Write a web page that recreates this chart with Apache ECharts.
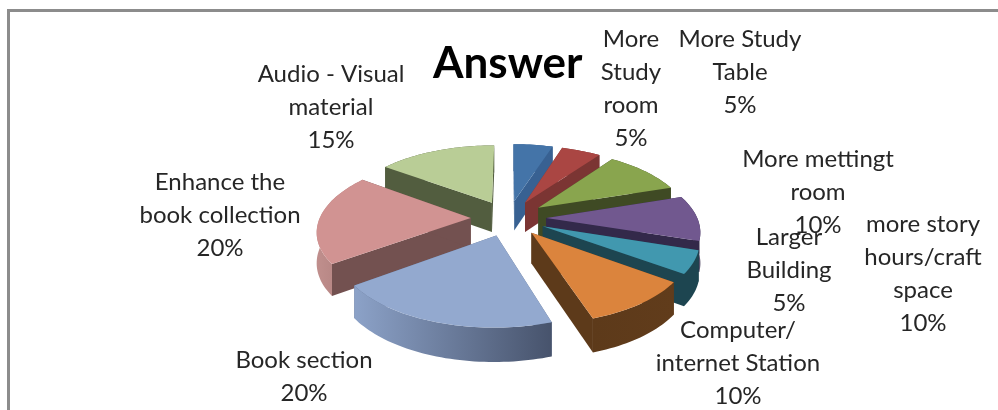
<!DOCTYPE html>
<html>
<head>
<meta charset="utf-8">
<style>
  html, body { margin: 0; padding: 0; background: #fff; }
  #chart { width: 998px; height: 410px; }
</style>
<script src="https://cdn.jsdelivr.net/npm/echarts@6/dist/echarts.min.js"></script>
</head>
<body>
<div id="chart"></div>
<script>
// data, clockwise from 12 o'clock
var categories = ['More\nStudy\nroom', 'More Study\nTable', 'More mettingt\nroom', 'more story\nhours/craft\nspace',
    'Larger\nBuilding', 'Computer/\ninternet Station', 'Book section', 'Enhance the\nbook collection', 'Audio - Visual\nmaterial'];
var shares = [5, 5, 10, 10, 5, 10, 20, 20, 15];

// colours
var topColors = ['#4474a8', '#aa4643', '#89a54e', '#71588f', '#4198af', '#db843d', '#93a9cf', '#d19392', '#b9cd96'];
var sideColors = ['#386192', '#7b3533', '#3f4a24', '#33294a', '#1d4550', '#5d3a1a', '#5d6d8c', '#735150', '#525d3f'];
var outerColors = [
    ['#386192', '#386192'], ['#7b3533', '#7b3533'], ['#3f4a24', '#3f4a24'], ['#33294a', '#33294a'], ['#1d4550', '#1d4550'],
    ['#5d3a1a', '#613c1b'], ['#8ca2c8', '#47536c'], ['#c08f8d', '#a97a78'], ['#525d3f', '#525d3f']
];

// label centres, [x, y of the middle of the block]
var labelPos = [[631, 89], [740, 72], [818, 192], [923, 274], [789, 270], [738, 363], [304, 377], [220, 215], [331, 107]];

// projection of the tilted pie
var cx = 508.5, cy = 218, rx = 151, ry = 71;
var explode = 0.25, persp = 0.16, wall = 30;

var total = shares.reduce(function (a, b) { return a + b; }, 0);
var startAngles = [];
shares.reduce(function (sum, v, i) { startAngles[i] = sum / total * 360; return sum + v; }, 0);

function rad(d) { return d * Math.PI / 180; }

function project(X, Y) {
    var s = 1 / (1 - persp * Y);
    return { x: cx + rx * X * s, y: cy + ry * Y * s, h: wall * (1 + (s - 1) * 0.6) };
}

function slicePoint(r, theta, mid) {
    var X = r * Math.sin(rad(theta)) + explode * Math.sin(rad(mid));
    var Y = -r * Math.cos(rad(theta)) - explode * Math.cos(rad(mid));
    return project(X, Y);
}

function renderSlice(params, api) {
    var i = params.dataIndex;
    var a = startAngles[i];
    var b = a + api.value(0) / total * 360;
    var mid = (a + b) / 2;
    var rank = Math.round((1 - Math.cos(rad(mid))) * 100);
    var apex = slicePoint(0, 0, mid);

    var arc = [];
    for (var t = a; t <= b + 0.01; t += 1.5) {
        arc.push(slicePoint(1, Math.min(t, b), mid));
    }
    var first = arc[0], last = arc[arc.length - 1];
    var topPts = [[apex.x, apex.y]].concat(arc.map(function (p) { return [p.x, p.y]; }));
    var outerPts = arc.map(function (p) { return [p.x, p.y]; })
        .concat(arc.slice().reverse().map(function (p) { return [p.x, p.y + p.h]; }));

    function radial(p) {
        return {
            type: 'polygon', z2: rank,
            shape: { points: [[apex.x, apex.y], [p.x, p.y], [p.x, p.y + p.h], [apex.x, apex.y + apex.h]] },
            style: { fill: sideColors[i] }
        };
    }

    return {
        type: 'group',
        children: [
            radial(first),
            radial(last),
            {
                type: 'polygon', z2: rank + 1,
                shape: { points: outerPts },
                style: { fill: new echarts.graphic.LinearGradient(0, 0, 1, 0, [
                    { offset: 0, color: outerColors[i][0] },
                    { offset: 1, color: outerColors[i][1] }
                ]) }
            },
            {
                type: 'polygon', z2: rank + 2,
                shape: { points: topPts },
                style: { fill: topColors[i] }
            }
        ]
    };
}

var labels = categories.map(function (name, i) {
    return {
        type: 'text',
        x: labelPos[i][0],
        y: labelPos[i][1],
        z: 5,
        style: {
            text: name + '\n' + Math.round(shares[i] / total * 100) + '%',
            fontFamily: 'Lato',
            fontSize: 24,
            lineHeight: 33,
            align: 'center',
            verticalAlign: 'middle',
            fill: '#262626'
        }
    };
});

var frame = {
    type: 'polyline',
    z: 1,
    shape: { points: [[8.5, 410], [8.5, 10.5], [998, 10.5]] },
    style: { stroke: '#8c8c8c', lineWidth: 3, fill: 'none' }
};

var chart = echarts.init(document.getElementById('chart'), null, { renderer: 'canvas' });
chart.setOption({
    animation: false,
    backgroundColor: '#fff',
    title: {
        text: 'Answer',
        left: 428,
        top: 37,
        textStyle: { fontFamily: 'Lato', fontWeight: 'bold', fontSize: 44, color: '#000' }
    },
    graphic: [frame].concat(labels),
    series: [{
        type: 'custom',
        coordinateSystem: 'none',
        renderItem: renderSlice,
        data: shares.map(function (v, i) { return { name: categories[i], value: [v] }; })
    }]
});
</script>
</body>
</html>
